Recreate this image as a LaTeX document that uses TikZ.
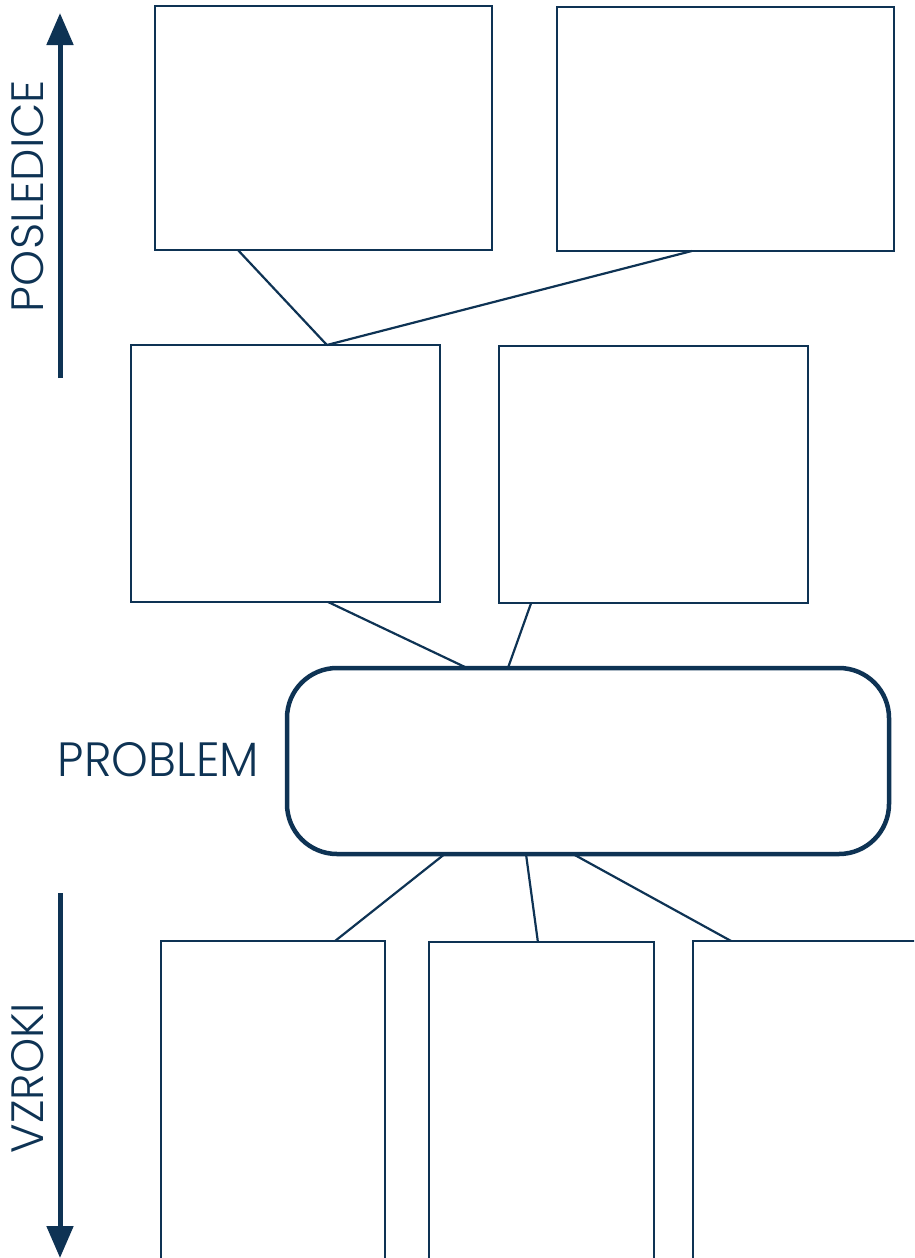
\documentclass[tikz,border=0pt]{standalone}
\usepackage{fontspec}
\setmainfont{Poppins}[UprightFont=* Light]
\usetikzlibrary{arrows.meta,calc}
\definecolor{navy}{RGB}{14,51,84}
\begin{document}
\begin{tikzpicture}[x=1pt,y=1pt,
  box/.style={draw=navy,line width=2.2pt,inner sep=0pt,outer sep=0pt},
  link/.style={draw=navy,line width=2.2pt},
  bigarrow/.style={draw=navy,line width=5pt,-{Triangle[width=26pt,length=32pt]},navy},
  lbl/.style={text=navy,inner sep=0pt}]
\useasboundingbox (0,0) rectangle (914,-1258);
\clip (0,0) rectangle (914,-1258);
% top boxes
\node[box,minimum width=337pt,minimum height=244pt] (tl) at (323.5,-128) {};
\node[box,minimum width=337pt,minimum height=244pt] (tr) at (725.5,-129) {};
% middle boxes
\node[box,minimum width=309pt,minimum height=257pt] (ml) at (285.5,-473.5) {};
\node[box,minimum width=309pt,minimum height=257pt] (mr) at (653.5,-474.5) {};
% problem box
\node[draw=navy,line width=4.5pt,rounded corners=50pt,minimum width=602pt,minimum height=186pt,inner sep=0pt,outer sep=0pt] (pb) at (588,-761) {};
% bottom boxes (open at bottom)
\node[box,minimum width=224pt,minimum height=380pt] (bl) at (273,-1131) {};
\node[box,minimum width=225pt,minimum height=380pt] (bm) at (541.5,-1132) {};
\node[box,minimum width=280pt,minimum height=380pt] (br) at (833,-1131) {};
% connectors
\coordinate (j) at ($(ml.north west)!0.634!(ml.north east)$);
\draw[link] ($(tl.south west)!0.246!(tl.south east)$) -- (j);
\draw[link] ($(tr.south west)!0.40!(tr.south east)$) -- (j);
\draw[link] ($(ml.south west)!0.638!(ml.south east)$) -- ($(pb.north west)!0.299!(pb.north east)$);
\draw[link] ($(mr.south west)!0.104!(mr.south east)$) -- ($(pb.north west)!0.367!(pb.north east)$);
\draw[link] ($(pb.south west)!0.262!(pb.south east)$) -- ($(bl.north west)!0.777!(bl.north east)$);
\draw[link] ($(pb.south west)!0.397!(pb.south east)$) -- ($(bm.north west)!0.484!(bm.north east)$);
\draw[link] ($(pb.south west)!0.475!(pb.south east)$) -- ($(br.north west)!0.136!(br.north east)$);
% arrows
\coordinate (up0) at (60,-378);
\coordinate (up1) at (60,-13);
\coordinate (dn0) at (60,-893);
\coordinate (dn1) at (60,-1258);
\draw[bigarrow] (up0) -- (up1);
\draw[bigarrow] (dn0) -- (dn1);
% labels
\node[lbl,rotate=90] (pos) at (28,-196) {\resizebox{232pt}{32pt}{POSLEDICE}};
\node[lbl,rotate=90] (vz) at (28,-1078) {\resizebox{150pt}{32pt}{VZROKI}};
\node[lbl] (prob) at (158.5,-759.5) {\resizebox{201pt}{34pt}{PROBLEM}};
\end{tikzpicture}
\end{document}
